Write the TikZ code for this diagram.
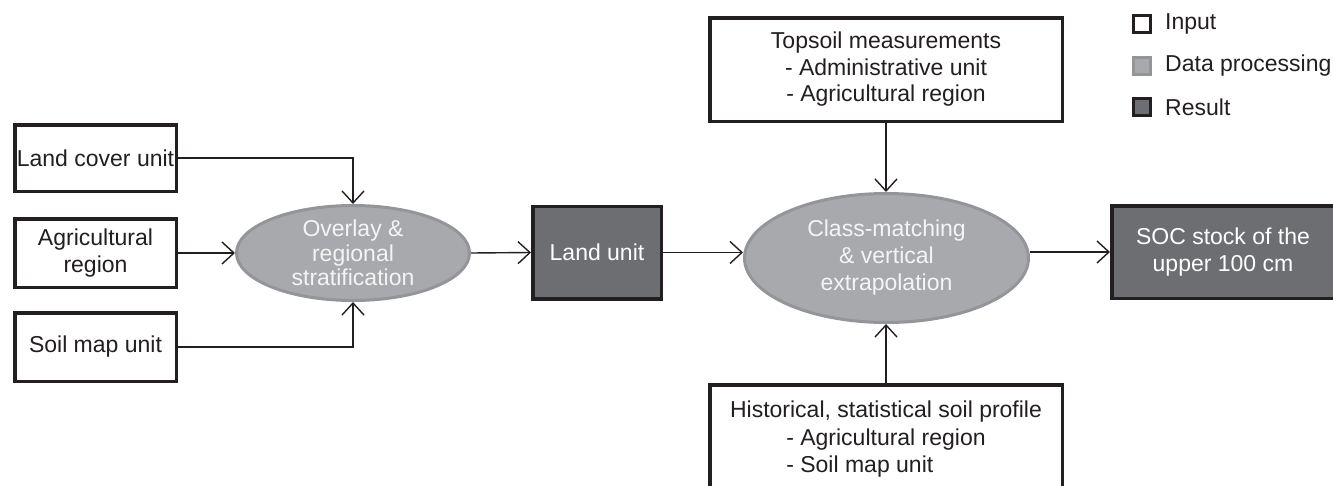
\documentclass[tikz,border=0pt]{standalone}
\usepackage{fontspec}
\setmainfont{Liberation Sans}
\usetikzlibrary{arrows.meta,shapes.geometric}
\definecolor{procfill}{HTML}{A7A9AC}
\definecolor{procdraw}{HTML}{939598}
\definecolor{proctext}{HTML}{F4F4F5}
\definecolor{resfill}{HTML}{6D6E71}
\definecolor{ink}{HTML}{231F20}
\begin{document}
\begin{tikzpicture}[x=1pt,y=-1pt,
  font=\fontsize{23}{26.5}\selectfont,
  inbox/.style={draw=ink, line width=3.5pt, fill=white, inner sep=0pt, align=center, text=ink},
  procell/.style={ellipse, draw=procdraw, line width=3pt, fill=procfill, text=proctext, inner sep=0pt, align=center},
  resbox/.style={draw=ink, line width=3.5pt, fill=resfill, text=white, inner sep=0pt, align=center},
  txt/.style={text=ink, inner sep=0pt},
  conn/.style={draw=ink, line width=1.4pt, -{Straight Barb[length=12pt,width=22pt,line width=1.4pt]}},
  legsq/.style={minimum width=17pt, minimum height=17pt, inner sep=0pt, line width=3pt},
]
\useasboundingbox (0,0) rectangle (1333,485);

% inputs left
\node[inbox, minimum width=161.5pt, minimum height=66.5pt] (lc) at (95.5,158) {Land cover unit};
\node[inbox, minimum width=161.5pt, minimum height=68.5pt] (ag) at (95.5,253) {Agricultural\\region};
\node[inbox, minimum width=161.5pt, minimum height=68.5pt] (sm) at (95.5,347) {Soil map unit};

% processing 1
\node[procell, minimum width=233pt, minimum height=95pt, font=\fontsize{23}{24.5}\selectfont] (ov) at (353,253) {Overlay \&\\regional\\stratification};

% land unit
\node[resbox, minimum width=128.5pt, minimum height=92.5pt] (lu) at (597,252.5) {Land unit};

% processing 2
\node[procell, minimum width=284pt, minimum height=129pt, font=\fontsize{23}{27}\selectfont] (cm) at (886.5,258) {Class-matching\\\& vertical\\extrapolation};

% topsoil
\node[inbox, minimum width=352.5pt, minimum height=103.5pt] (ts) at (886,69.5) {Topsoil measurements\\- Administrative unit\\- Agricultural region};

% historical
\node[inbox, minimum width=352.5pt, minimum height=113.5pt] (hb) at (886,441.5) {};
\node[txt, anchor=base] (ht1) at (886,417) {Historical, statistical soil profile};
\node[txt, anchor=base] (ht2) at (886,445) {- Agricultural region};
\node[txt, anchor=base west] (ht3) at ([yshift=-27.5pt]ht2.base west) {- Soil map unit};

% result
\node[resbox, minimum width=222.5pt, minimum height=92.5pt, font=\fontsize{23}{27}\selectfont] (soc) at (1223,252) {SOC stock of the\\upper 100 cm};

% connectors
\draw[conn] (lc.east) -| (ov.north);
\draw[conn] (ag.east) -- (ov.west);
\draw[conn] (sm.east) -| (ov.south);
\draw[conn] (ov.east) -- (lu.west);
\draw[conn] (lu.east) -- (lu.east -| cm.west);
\draw[conn] (cm.east |- soc.west) -- (soc.west);
\draw[conn] (ts.south) -- (ts.south |- cm.north);
\draw[conn] (hb.north) -- (hb.north |- cm.south);

% legend
\node[legsq, draw=ink, fill=white] (lg1) at (1142,24) {};
\node[legsq, draw=procdraw, fill=procfill] (lg2) at (1142,65.5) {};
\node[legsq, draw=ink, fill=resfill] (lg3) at (1142,107) {};
\node[txt, anchor=west] (lt1) at (1165,24) {Input};
\node[txt, anchor=west] (lt2) at (1165,65.5) {Data processing};
\node[txt, anchor=west] (lt3) at (1165,107) {Result};
\end{tikzpicture}
\end{document}
